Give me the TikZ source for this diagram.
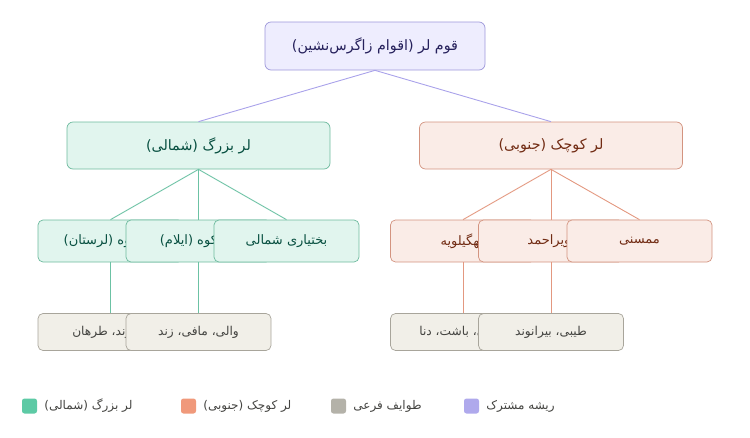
\documentclass[tikz,border=0pt]{standalone}
\usepackage{fontspec}
\usepackage{xcolor}
\usepackage{tikz}
\usetikzlibrary{positioning}
\TeXXeTstate=1
\newfontfamily\fafont[Script=Arabic]{DejaVu Sans}
\newcommand{\rtl}[1]{\beginR #1\endR}

\definecolor{rootfill}{HTML}{EEEDFE}
\definecolor{rootline}{HTML}{9D97DA}
\definecolor{roottext}{HTML}{26215C}
\definecolor{rootedge}{HTML}{A9A2EA}
\definecolor{northfill}{HTML}{E1F5EE}
\definecolor{northline}{HTML}{6DBA9E}
\definecolor{northtext}{HTML}{085041}
\definecolor{northedge}{HTML}{6CC2A4}
\definecolor{southfill}{HTML}{FAECE7}
\definecolor{southline}{HTML}{D39480}
\definecolor{southtext}{HTML}{712B13}
\definecolor{southedge}{HTML}{E39880}
\definecolor{subfill}{HTML}{F1EFE8}
\definecolor{subline}{HTML}{A8A59B}
\definecolor{subtext}{HTML}{444441}
\definecolor{keynorth}{HTML}{5DCAA5}
\definecolor{keysouth}{HTML}{F0997B}
\definecolor{keysub}{HTML}{B4B2A9}
\definecolor{keyroot}{HTML}{AFA9EC}

\tikzset{
	rootbox/.style={draw=rootline, fill=rootfill, text=roottext, rounded corners=6pt, line width=0.7pt, minimum width=220pt, minimum height=48pt, inner sep=0pt, font=\fafont\fontsize{14.3}{16}\selectfont},
	groupbox/.style={draw=#1line, fill=#1fill, text=#1text, rounded corners=6pt, line width=0.7pt, minimum width=263pt, minimum height=47pt, inner sep=0pt, font=\fafont\fontsize{14.3}{16}\selectfont},
	tribebox/.style={draw=#1line, fill=#1fill, text=#1text, rounded corners=5pt, line width=0.7pt, minimum width=145pt, minimum height=42pt, inner sep=0pt, font=\fafont\fontsize{13}{15}\selectfont},
	clanbox/.style={draw=subline, fill=subfill, text=subtext, rounded corners=5pt, line width=0.7pt, minimum width=145pt, minimum height=37pt, inner sep=0pt, font=\fafont\fontsize{12.2}{14}\selectfont},
	treeline/.style={draw=#1, line width=0.9pt},
	keysq/.style={fill=#1, rounded corners=2.5pt, minimum size=15pt, inner sep=0pt},
	keytext/.style={text=subtext, inner sep=0pt, font=\fafont\fontsize{12}{14}\selectfont},
}

\begin{document}
\begin{tikzpicture}[x=1pt, y=-1pt]
	\useasboundingbox (0,0) rectangle (750,437);
	\node[rootbox] (root) at (375,46) {\rtl{قوم لر (اقوام زاگرس‌نشین)}};
	\node[groupbox=north] (big) at (198.5,145.5) {\rtl{لر بزرگ (شمالی)}};
	\node[groupbox=south] (small) at (551,145.5) {\rtl{لر کوچک (جنوبی)}};
	\draw[treeline=rootedge] (root.south) -- (big.north);
	\draw[treeline=rootedge] (root.south) -- (small.north);
	% Lor-e Bozorg
	\node[tribebox=north] (pish) at (110.5,241) {\rtl{پیشکوه (لرستان)}};
	\node[tribebox=north] (posht) at (198.5,241) {\rtl{پشتکوه (ایلام)}};
	\node[tribebox=north] (bakh) at (286.5,241) {\rtl{بختیاری شمالی}};
	\foreach \t in {pish,posht,bakh}
		\draw[treeline=northedge] (big.south) -- (\t.north);
	\node[clanbox] (pishc) at (110.5,332) {\rtl{سگوند، طرهان}};
	\node[clanbox] (poshtc) at (198.5,332) {\rtl{والی، مافی، زند}};
	\draw[treeline=northedge] (pish.south) -- (pishc.north);
	\draw[treeline=northedge] (posht.south) -- (poshtc.north);
	% Lor-e Kuchak
	\node[tribebox=south] (kohg) at (463,241) {\rtl{کهگیلویه}};
	\node[tribebox=south] (boyer) at (551,241) {\rtl{بویراحمد}};
	\node[tribebox=south] (mam) at (639.5,241) {\rtl{ممسنی}};
	\foreach \t in {kohg,boyer,mam}
		\draw[treeline=southedge] (small.south) -- (\t.north);
	\node[clanbox] (kohgc) at (463,332) {\rtl{بهمئی، باشت، دنا}};
	\node[clanbox] (boyerc) at (551,332) {\rtl{طیبی، بیرانوند}};
	\draw[treeline=southedge] (kohg.south) -- (kohgc.north);
	\draw[treeline=southedge] (boyer.south) -- (boyerc.north);
	% legend
	\node[keysq=keynorth] (kn) at (29.5,406) {};
	\node[keytext, right=7pt of kn] (knt) {\rtl{لر بزرگ (شمالی)}};
	\node[keysq=keysouth] (ks) at (188.5,406) {};
	\node[keytext, right=7pt of ks] (kst) {\rtl{لر کوچک (جنوبی)}};
	\node[keysq=keysub] (kc) at (338.5,406) {};
	\node[keytext, right=7pt of kc] (kct) {\rtl{طوایف فرعی}};
	\node[keysq=keyroot] (kr) at (471.5,406) {};
	\node[keytext, right=7pt of kr] (krt) {\rtl{ریشه مشترک}};
\end{tikzpicture}
\end{document}
